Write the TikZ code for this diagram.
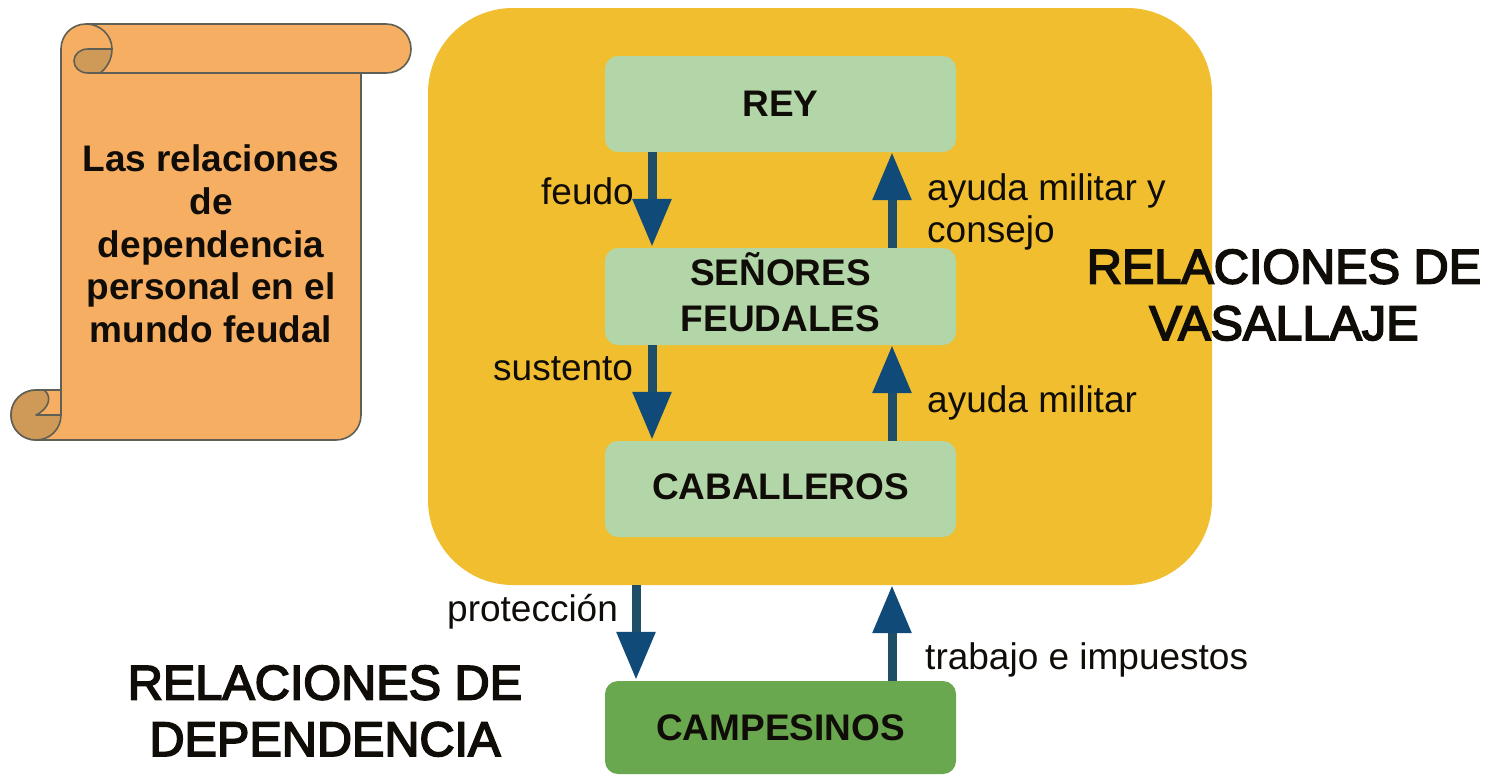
\documentclass[tikz,border=0pt]{standalone}
\usepackage{fontspec}
\setmainfont{Liberation Sans}
\newfontfamily\heavyfont[FakeBold=3.5]{Liberation Sans}
\usetikzlibrary{arrows.meta}
\definecolor{outerc}{HTML}{F0BE2E}
\definecolor{greenc}{HTML}{B3D6A8}
\definecolor{darkg}{HTML}{6AA84F}
\definecolor{arrowc}{HTML}{0F4A78}
\definecolor{shaftc}{HTML}{1F4E68}
\definecolor{scrollc}{HTML}{F6AE62}
\definecolor{curlc}{HTML}{CF9A58}
\definecolor{edgec}{HTML}{5F5F55}
\definecolor{inkc}{HTML}{100C08}
\tikzset{
  x=1pt,y=-1pt,
  rank/.style={rectangle,rounded corners=13pt,fill=greenc,minimum width=351pt,inner sep=0pt,align=center,text=inkc,font=\bfseries\fontsize{37}{46}\selectfont},
  flow/.style={draw=shaftc,line width=9pt,-{Triangle[length=48pt,width=37pt,color=arrowc]}},
  lab/.style={anchor=base west,inner sep=0pt,text=inkc,font=\fontsize{37}{42}\selectfont},
  big/.style={anchor=center,inner sep=0pt,align=center,text=inkc,font=\heavyfont\fontsize{48.6}{56.5}\selectfont},
  scrollline/.style={draw=edgec,line width=1.6pt,line join=round},
}
\begin{document}
\begin{tikzpicture}
\useasboundingbox[fill=white] (0,0) rectangle (1487,774);
% scroll
\filldraw[scrollline,fill=scrollc] (86,24) -- (386,24) .. controls (400,24) and (411,35) .. (411,49) .. controls (411,63) and (400,73) .. (386,73) -- (361,73) -- (361,415) .. controls (361,429) and (350,440) .. (336,440) -- (36,440) .. controls (22,440) and (11,429) .. (11,415) .. controls (11,401) and (22,390) .. (36,390) -- (61,390) -- (61,49) .. controls (61,35) and (72,24) .. (86,24) -- cycle;
\filldraw[scrollline,fill=curlc] (112,49) -- (88,49) .. controls (80,49) and (74,54) .. (74,61) .. controls (74,68) and (80,73) .. (88,73) -- (100,73) .. controls (107,68) and (112,59) .. (112,49) -- cycle;
\draw[scrollline] (86,24) .. controls (100,24) and (112,35) .. (112,49);
\draw[scrollline] (88,73) -- (361,73);
\filldraw[scrollline,fill=curlc] (36,390) -- (44,390) .. controls (52,396) and (50,408) .. (36,415) -- (61,415) .. controls (61,429) and (50,440) .. (36,440) .. controls (22,440) and (11,429) .. (11,415) .. controls (11,401) and (22,390) .. (36,390) -- cycle;
\draw[scrollline] (61,390) -- (61,415);
\node[inner sep=0pt,align=center,text=inkc,font=\bfseries\fontsize{37}{42.7}\selectfont] (title) at (211,244) {Las relaciones\\de\\dependencia\\personal en el\\mundo feudal};
% boxes
\node[rectangle,rounded corners=85pt,fill=outerc,minimum width=784pt,minimum height=577pt,inner sep=0pt] (outer) at (820,296.5) {};
\node[rank,minimum height=96pt] (rey) at (780.5,104) {REY};
\node[rank,minimum height=97pt,text depth=8pt] (senores) at (780.5,296.5) {SEÑORES\\FEUDALES};
\node[rank,minimum height=96pt,text depth=5pt] (caballeros) at (780.5,489) {CABALLEROS};
\node[rank,minimum height=93pt,fill=darkg] (campesinos) at (780.5,727.5) {CAMPESINOS};
\coordinate (dn) at (652,0);
\coordinate (up) at (892,0);
\coordinate (dnb) at (636,0);
% arrows
\draw[flow,shorten >=1pt] (rey.south -| dn) -- (senores.north -| dn);
\draw[flow] (senores.north -| up) -- (rey.south -| up);
\draw[flow,shorten >=1pt] (senores.south -| dn) -- (caballeros.north -| dn);
\draw[flow] (caballeros.north -| up) -- (senores.south -| up);
\draw[flow,shorten >=1pt] (outer.south -| dnb) -- (campesinos.north -| dnb);
\draw[flow] (campesinos.north -| up) -- (outer.south -| up);
% labels
\node[lab] (l1) at (541,204) {feudo};
\node[lab] (l2) at (927,200) {ayuda militar y};
\node[lab] (l3) at (927,242) {consejo};
\node[lab] (l4) at (493,380) {sustento};
\node[lab] (l5) at (927,412) {ayuda militar};
\node[lab] (l6) at (447,621) {protección};
\node[lab] (l7) at (925,669) {trabajo e impuestos};
\node[big] (vas) at (1284,295) {RELACIONES DE\\VASALLAJE};
\node[big] (dep) at (325,711) {RELACIONES DE\\DEPENDENCIA};
\end{tikzpicture}
\end{document}
